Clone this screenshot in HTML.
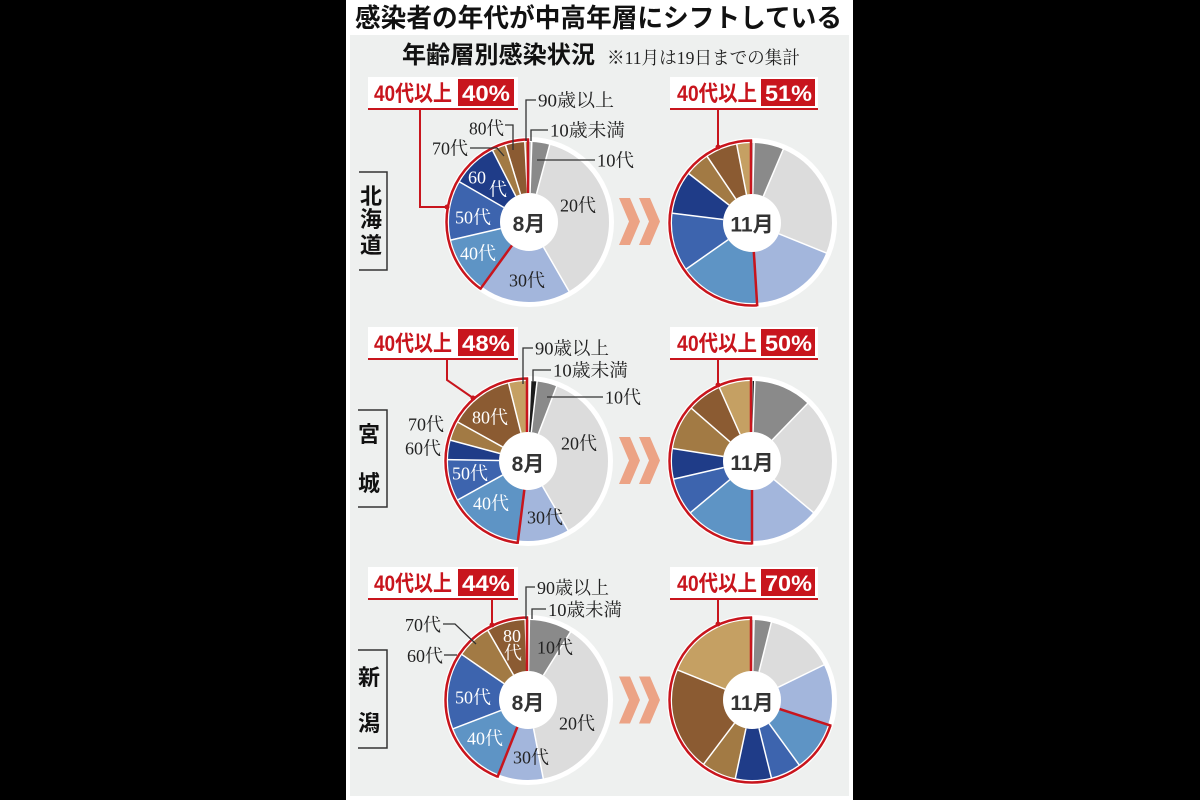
<!DOCTYPE html>
<html><head><meta charset="utf-8"><style>
html,body{margin:0;padding:0;background:#000;}
svg{display:block}
.s{font-family:"Liberation Serif","Noto Serif CJK SC",serif;font-size:18px;fill:#222}
.w{fill:#fff}
.b{font-family:"Liberation Sans","Noto Sans CJK JP",sans-serif;font-weight:bold}
.ld{fill:none;stroke:#333;stroke-width:1.3}
.rd{fill:none;stroke:#c8151d;stroke-width:2}
</style></head><body>
<svg width="1200" height="800" viewBox="0 0 1200 800" xmlns="http://www.w3.org/2000/svg">
<rect width="1200" height="800" fill="#000"/>
<rect x="346" y="0" width="507" height="800" fill="#fff"/>
<rect x="350" y="35" width="499" height="761" fill="#eef0ef"/>

<text x="355" y="27" font-size="26" class="b" fill="#111" textLength="487" lengthAdjust="spacingAndGlyphs">感染者の年代が中高年層にシフトしている</text>
<text x="402" y="63" font-size="24" class="b" fill="#111" textLength="193" lengthAdjust="spacingAndGlyphs">年齢層別感染状況</text>
<text x="607" y="64" class="s" textLength="193" lengthAdjust="spacingAndGlyphs">※11月は19日までの集計</text>

<!-- region labels -->
<g class="b" font-size="22" fill="#111" text-anchor="middle">
<text x="371" y="204">北</text><text x="371" y="227">海</text><text x="371" y="253">道</text>
<text x="369" y="442">宮</text><text x="369" y="491">城</text>
<text x="369" y="685">新</text><text x="369" y="731">潟</text>
</g>
<g fill="none" stroke="#333" stroke-width="1.5">
<path d="M359 172 H387 V270 H359"/>
<path d="M358 410 H387 V507 H358"/>
<path d="M358 650 H387 V748 H358"/>
</g>

<!-- chevrons -->
<g fill="#eca385">
<polygon points="619,198 630,198 640,221.5 630,245 619,245 629,221.5"/>
<polygon points="639,198 650,198 660,221.5 650,245 639,245 649,221.5"/>
<polygon points="619,437 630,437 640,460.5 630,484 619,484 629,460.5"/>
<polygon points="639,437 650,437 660,460.5 650,484 639,484 649,460.5"/>
<polygon points="619,676.5 630,676.5 640,700 630,723.5 619,723.5 629,700"/>
<polygon points="639,676.5 650,676.5 660,700 650,723.5 639,723.5 649,700"/>
</g>

<!-- ===== PIE A: Hokkaido Aug ===== -->
<g transform="translate(529 222)">
<circle r="85" fill="#fff"/>
<g transform="rotate(-90) scale(0.7456)" fill="none" stroke-width="100">
<circle r="57.2958" stroke="#c8c8c8" stroke-dasharray="2 400" stroke-dashoffset="0"/>
<circle r="57.2958" stroke="#8a8a8a" stroke-dasharray="13 400" stroke-dashoffset="-2"/>
<circle r="57.2958" stroke="#dcdcdc" stroke-dasharray="135 400" stroke-dashoffset="-15"/>
<circle r="57.2958" stroke="#a3b6dc" stroke-dasharray="66 400" stroke-dashoffset="-150"/>
<circle r="57.2958" stroke="#5e94c5" stroke-dasharray="41 400" stroke-dashoffset="-216"/>
<circle r="57.2958" stroke="#3d64ae" stroke-dasharray="43 400" stroke-dashoffset="-257"/>
<circle r="57.2958" stroke="#1f3c88" stroke-dasharray="33 400" stroke-dashoffset="-300"/>
<circle r="57.2958" stroke="#a27a44" stroke-dasharray="10 400" stroke-dashoffset="-333"/>
<circle r="57.2958" stroke="#8b5b32" stroke-dasharray="14 400" stroke-dashoffset="-343"/>
<circle r="57.2958" stroke="#c5a063" stroke-dasharray="3 400" stroke-dashoffset="-357"/>
</g>
<g stroke="#fff" stroke-width="1.5">
<line x1="0" y1="-29" x2="0" y2="-81" transform="rotate(2)"/>
<line x1="0" y1="-29" x2="0" y2="-81" transform="rotate(15)"/>
<line x1="0" y1="-29" x2="0" y2="-81" transform="rotate(150)"/>
<line x1="0" y1="-29" x2="0" y2="-81" transform="rotate(257)"/>
<line x1="0" y1="-29" x2="0" y2="-81" transform="rotate(300)"/>
<line x1="0" y1="-29" x2="0" y2="-81" transform="rotate(333)"/>
<line x1="0" y1="-29" x2="0" y2="-81" transform="rotate(343)"/>
<line x1="0" y1="-29" x2="0" y2="-81" transform="rotate(357)"/>
</g>
<g transform="rotate(-90) scale(1.4399)"><circle r="57.2958" fill="none" stroke="#c8151d" stroke-width="1.736" stroke-dasharray="144 400" stroke-dashoffset="-216"/></g>
<g stroke="#c8151d" stroke-width="2.5">
<line x1="0" y1="-28" x2="0" y2="-83.5" transform="rotate(216)"/>
<line x1="-1" y1="-28" x2="-1" y2="-83.5"/>
</g>
<circle r="29" fill="#fff"/>
<text x="0" y="9" text-anchor="middle" class="b" font-size="21" fill="#333">8月</text>
</g>

<!-- ===== PIE B: Hokkaido Nov ===== -->
<g transform="translate(752 223)">
<circle r="85" fill="#fff"/>
<g transform="rotate(-90) scale(0.7456)" fill="none" stroke-width="100">
<circle r="57.2958" stroke="#c8c8c8" stroke-dasharray="1.5 400" stroke-dashoffset="0"/>
<circle r="57.2958" stroke="#8a8a8a" stroke-dasharray="21.5 400" stroke-dashoffset="-1.5"/>
<circle r="57.2958" stroke="#dcdcdc" stroke-dasharray="89 400" stroke-dashoffset="-23"/>
<circle r="57.2958" stroke="#a3b6dc" stroke-dasharray="64.4 400" stroke-dashoffset="-112"/>
<circle r="57.2958" stroke="#5e94c5" stroke-dasharray="58.6 400" stroke-dashoffset="-176.4"/>
<circle r="57.2958" stroke="#3d64ae" stroke-dasharray="42 400" stroke-dashoffset="-235"/>
<circle r="57.2958" stroke="#1f3c88" stroke-dasharray="31 400" stroke-dashoffset="-277"/>
<circle r="57.2958" stroke="#a27a44" stroke-dasharray="18 400" stroke-dashoffset="-308"/>
<circle r="57.2958" stroke="#8b5b32" stroke-dasharray="23 400" stroke-dashoffset="-326"/>
<circle r="57.2958" stroke="#c5a063" stroke-dasharray="11 400" stroke-dashoffset="-349"/>
</g>
<g stroke="#fff" stroke-width="1.5">
<line x1="0" y1="-29" x2="0" y2="-81" transform="rotate(1.5)"/>
<line x1="0" y1="-29" x2="0" y2="-81" transform="rotate(23)"/>
<line x1="0" y1="-29" x2="0" y2="-81" transform="rotate(112)"/>
<line x1="0" y1="-29" x2="0" y2="-81" transform="rotate(235)"/>
<line x1="0" y1="-29" x2="0" y2="-81" transform="rotate(277)"/>
<line x1="0" y1="-29" x2="0" y2="-81" transform="rotate(308)"/>
<line x1="0" y1="-29" x2="0" y2="-81" transform="rotate(326)"/>
<line x1="0" y1="-29" x2="0" y2="-81" transform="rotate(349)"/>
</g>
<g transform="rotate(-90) scale(1.4399)"><circle r="57.2958" fill="none" stroke="#c8151d" stroke-width="1.736" stroke-dasharray="183.6 400" stroke-dashoffset="-176.4"/></g>
<g stroke="#c8151d" stroke-width="2.5">
<line x1="0" y1="-28" x2="0" y2="-83.5" transform="rotate(176.4)"/>
<line x1="-1" y1="-28" x2="-1" y2="-83.5"/>
</g>
<circle r="29" fill="#fff"/>
<text x="0" y="8.5" text-anchor="middle" class="b" font-size="21" fill="#333">11月</text>
</g>

<!-- ===== PIE C: Miyagi Aug ===== -->
<g transform="translate(528 461)">
<circle r="85" fill="#fff"/>
<g transform="rotate(-90) scale(0.7456)" fill="none" stroke-width="100">
<circle r="57.2958" stroke="#1c1c1c" stroke-dasharray="4 400" stroke-dashoffset="-2.5"/>
<circle r="57.2958" stroke="#8a8a8a" stroke-dasharray="14.5 400" stroke-dashoffset="-6.5"/>
<circle r="57.2958" stroke="#dcdcdc" stroke-dasharray="129 400" stroke-dashoffset="-21"/>
<circle r="57.2958" stroke="#a3b6dc" stroke-dasharray="37.2 400" stroke-dashoffset="-150"/>
<circle r="57.2958" stroke="#5e94c5" stroke-dasharray="53.8 400" stroke-dashoffset="-187.2"/>
<circle r="57.2958" stroke="#3d64ae" stroke-dasharray="30 400" stroke-dashoffset="-241"/>
<circle r="57.2958" stroke="#1f3c88" stroke-dasharray="14 400" stroke-dashoffset="-271"/>
<circle r="57.2958" stroke="#a27a44" stroke-dasharray="14 400" stroke-dashoffset="-285"/>
<circle r="57.2958" stroke="#8b5b32" stroke-dasharray="47 400" stroke-dashoffset="-299"/>
<circle r="57.2958" stroke="#c5a063" stroke-dasharray="14 400" stroke-dashoffset="-346"/>
</g>
<g stroke="#fff" stroke-width="1.5">
<line x1="0" y1="-29" x2="0" y2="-81" transform="rotate(6.5)"/>
<line x1="0" y1="-29" x2="0" y2="-81" transform="rotate(21)"/>
<line x1="0" y1="-29" x2="0" y2="-81" transform="rotate(150)"/>
<line x1="0" y1="-29" x2="0" y2="-81" transform="rotate(241)"/>
<line x1="0" y1="-29" x2="0" y2="-81" transform="rotate(271)"/>
<line x1="0" y1="-29" x2="0" y2="-81" transform="rotate(285)"/>
<line x1="0" y1="-29" x2="0" y2="-81" transform="rotate(299)"/>
<line x1="0" y1="-29" x2="0" y2="-81" transform="rotate(346)"/>
</g>
<g transform="rotate(-90) scale(1.4399)"><circle r="57.2958" fill="none" stroke="#c8151d" stroke-width="1.736" stroke-dasharray="172.8 400" stroke-dashoffset="-187.2"/></g>
<g stroke="#c8151d" stroke-width="2.5">
<line x1="0" y1="-28" x2="0" y2="-83.5" transform="rotate(187.2)"/>
<line x1="-1" y1="-28" x2="-1" y2="-83.5"/>
</g>
<circle r="29" fill="#fff"/>
<text x="0" y="10" text-anchor="middle" class="b" font-size="21" fill="#333">8月</text>
</g>

<!-- ===== PIE D: Miyagi Nov ===== -->
<g transform="translate(752 461)">
<circle r="85" fill="#fff"/>
<g transform="rotate(-90) scale(0.7456)" fill="none" stroke-width="100">
<circle r="57.2958" stroke="#1c1c1c" stroke-dasharray="1.5 400" stroke-dashoffset="-0.5"/>
<circle r="57.2958" stroke="#8a8a8a" stroke-dasharray="42 400" stroke-dashoffset="-2"/>
<circle r="57.2958" stroke="#dcdcdc" stroke-dasharray="86 400" stroke-dashoffset="-44"/>
<circle r="57.2958" stroke="#a3b6dc" stroke-dasharray="50 400" stroke-dashoffset="-130"/>
<circle r="57.2958" stroke="#5e94c5" stroke-dasharray="50 400" stroke-dashoffset="-180"/>
<circle r="57.2958" stroke="#3d64ae" stroke-dasharray="27 400" stroke-dashoffset="-230"/>
<circle r="57.2958" stroke="#1f3c88" stroke-dasharray="22 400" stroke-dashoffset="-257"/>
<circle r="57.2958" stroke="#a27a44" stroke-dasharray="32 400" stroke-dashoffset="-279"/>
<circle r="57.2958" stroke="#8b5b32" stroke-dasharray="25 400" stroke-dashoffset="-311"/>
<circle r="57.2958" stroke="#c5a063" stroke-dasharray="24 400" stroke-dashoffset="-336"/>
</g>
<g stroke="#fff" stroke-width="1.5">
<line x1="0" y1="-29" x2="0" y2="-81" transform="rotate(2)"/>
<line x1="0" y1="-29" x2="0" y2="-81" transform="rotate(44)"/>
<line x1="0" y1="-29" x2="0" y2="-81" transform="rotate(130)"/>
<line x1="0" y1="-29" x2="0" y2="-81" transform="rotate(230)"/>
<line x1="0" y1="-29" x2="0" y2="-81" transform="rotate(257)"/>
<line x1="0" y1="-29" x2="0" y2="-81" transform="rotate(279)"/>
<line x1="0" y1="-29" x2="0" y2="-81" transform="rotate(311)"/>
<line x1="0" y1="-29" x2="0" y2="-81" transform="rotate(336)"/>
</g>
<g transform="rotate(-90) scale(1.4399)"><circle r="57.2958" fill="none" stroke="#c8151d" stroke-width="1.736" stroke-dasharray="180 400" stroke-dashoffset="-180"/></g>
<g stroke="#c8151d" stroke-width="2.5">
<line x1="0" y1="-28" x2="0" y2="-83.5" transform="rotate(180)"/>
<line x1="-1" y1="-28" x2="-1" y2="-83.5"/>
</g>
<circle r="29" fill="#fff"/>
<text x="0" y="9" text-anchor="middle" class="b" font-size="21" fill="#333">11月</text>
</g>

<!-- ===== PIE E: Niigata Aug ===== -->
<g transform="translate(528 700)">
<circle r="85" fill="#fff"/>
<g transform="rotate(-90) scale(0.7456)" fill="none" stroke-width="100">
<circle r="57.2958" stroke="#c8c8c8" stroke-dasharray="1 400" stroke-dashoffset="0"/>
<circle r="57.2958" stroke="#8a8a8a" stroke-dasharray="31 400" stroke-dashoffset="-1"/>
<circle r="57.2958" stroke="#dcdcdc" stroke-dasharray="137 400" stroke-dashoffset="-32"/>
<circle r="57.2958" stroke="#a3b6dc" stroke-dasharray="32.6 400" stroke-dashoffset="-169"/>
<circle r="57.2958" stroke="#5e94c5" stroke-dasharray="47.4 400" stroke-dashoffset="-201.6"/>
<circle r="57.2958" stroke="#3d64ae" stroke-dasharray="54 400" stroke-dashoffset="-249"/>
<circle r="57.2958" stroke="#1f3c88" stroke-dasharray="1.5 400" stroke-dashoffset="-303"/>
<circle r="57.2958" stroke="#a27a44" stroke-dasharray="25.5 400" stroke-dashoffset="-304.5"/>
<circle r="57.2958" stroke="#8b5b32" stroke-dasharray="28 400" stroke-dashoffset="-330"/>
<circle r="57.2958" stroke="#c5a063" stroke-dasharray="2 400" stroke-dashoffset="-358"/>
</g>
<g stroke="#fff" stroke-width="1.5">
<line x1="0" y1="-29" x2="0" y2="-81" transform="rotate(1)"/>
<line x1="0" y1="-29" x2="0" y2="-81" transform="rotate(32)"/>
<line x1="0" y1="-29" x2="0" y2="-81" transform="rotate(169)"/>
<line x1="0" y1="-29" x2="0" y2="-81" transform="rotate(249)"/>
<line x1="0" y1="-29" x2="0" y2="-81" transform="rotate(304.5)"/>
<line x1="0" y1="-29" x2="0" y2="-81" transform="rotate(330)"/>
<line x1="0" y1="-29" x2="0" y2="-81" transform="rotate(358)"/>
</g>
<g transform="rotate(-90) scale(1.4399)"><circle r="57.2958" fill="none" stroke="#c8151d" stroke-width="1.736" stroke-dasharray="158.4 400" stroke-dashoffset="-201.6"/></g>
<g stroke="#c8151d" stroke-width="2.5">
<line x1="0" y1="-28" x2="0" y2="-83.5" transform="rotate(201.6)"/>
<line x1="-1" y1="-28" x2="-1" y2="-83.5"/>
</g>
<circle r="29" fill="#fff"/>
<text x="0" y="10" text-anchor="middle" class="b" font-size="21" fill="#333">8月</text>
</g>

<!-- ===== PIE F: Niigata Nov ===== -->
<g transform="translate(752 700)">
<circle r="85" fill="#fff"/>
<g transform="rotate(-90) scale(0.7456)" fill="none" stroke-width="100">
<circle r="57.2958" stroke="#c8c8c8" stroke-dasharray="1.5 400" stroke-dashoffset="0"/>
<circle r="57.2958" stroke="#8a8a8a" stroke-dasharray="12.5 400" stroke-dashoffset="-1.5"/>
<circle r="57.2958" stroke="#dcdcdc" stroke-dasharray="50 400" stroke-dashoffset="-14"/>
<circle r="57.2958" stroke="#a3b6dc" stroke-dasharray="44 400" stroke-dashoffset="-64"/>
<circle r="57.2958" stroke="#5e94c5" stroke-dasharray="36 400" stroke-dashoffset="-108"/>
<circle r="57.2958" stroke="#3d64ae" stroke-dasharray="22 400" stroke-dashoffset="-144"/>
<circle r="57.2958" stroke="#1f3c88" stroke-dasharray="26 400" stroke-dashoffset="-166"/>
<circle r="57.2958" stroke="#a27a44" stroke-dasharray="25 400" stroke-dashoffset="-192"/>
<circle r="57.2958" stroke="#8b5b32" stroke-dasharray="75 400" stroke-dashoffset="-217"/>
<circle r="57.2958" stroke="#c5a063" stroke-dasharray="68 400" stroke-dashoffset="-292"/>
</g>
<g stroke="#fff" stroke-width="1.5">
<line x1="0" y1="-29" x2="0" y2="-81" transform="rotate(1.5)"/>
<line x1="0" y1="-29" x2="0" y2="-81" transform="rotate(14)"/>
<line x1="0" y1="-29" x2="0" y2="-81" transform="rotate(64)"/>
<line x1="0" y1="-29" x2="0" y2="-81" transform="rotate(144)"/>
<line x1="0" y1="-29" x2="0" y2="-81" transform="rotate(166)"/>
<line x1="0" y1="-29" x2="0" y2="-81" transform="rotate(192)"/>
<line x1="0" y1="-29" x2="0" y2="-81" transform="rotate(217)"/>
<line x1="0" y1="-29" x2="0" y2="-81" transform="rotate(292)"/>
</g>
<g transform="rotate(-90) scale(1.4399)"><circle r="57.2958" fill="none" stroke="#c8151d" stroke-width="1.736" stroke-dasharray="252 400" stroke-dashoffset="-108"/></g>
<g stroke="#c8151d" stroke-width="2.5">
<line x1="0" y1="-28" x2="0" y2="-83.5" transform="rotate(108)"/>
<line x1="-1" y1="-28" x2="-1" y2="-83.5"/>
</g>
<circle r="29" fill="#fff"/>
<text x="0" y="10" text-anchor="middle" class="b" font-size="21" fill="#333">11月</text>
</g>

<!-- ===== Label boxes ===== -->
<g>
<rect x="368" y="77" width="150" height="32" fill="#fff"/>
<text x="374" y="101" class="b" font-size="22" fill="#c8151d" textLength="78" lengthAdjust="spacingAndGlyphs">40代以上</text>
<rect x="458" y="79" width="56" height="27" fill="#c8151d"/>
<text x="462" y="101" class="b" font-size="22" fill="#fff" textLength="48" lengthAdjust="spacingAndGlyphs">40%</text>
<line x1="368" y1="109" x2="518" y2="109" stroke="#c8151d" stroke-width="2"/>

<rect x="670" y="77" width="148" height="32" fill="#fff"/>
<text x="677" y="101" class="b" font-size="22" fill="#c8151d" textLength="80" lengthAdjust="spacingAndGlyphs">40代以上</text>
<rect x="761" y="79" width="54" height="27" fill="#c8151d"/>
<text x="765" y="101" class="b" font-size="22" fill="#fff" textLength="47" lengthAdjust="spacingAndGlyphs">51%</text>
<line x1="670" y1="109" x2="818" y2="109" stroke="#c8151d" stroke-width="2"/>

<rect x="368" y="327" width="150" height="32" fill="#fff"/>
<text x="374" y="351" class="b" font-size="22" fill="#c8151d" textLength="78" lengthAdjust="spacingAndGlyphs">40代以上</text>
<rect x="458" y="329" width="56" height="27" fill="#c8151d"/>
<text x="462" y="351" class="b" font-size="22" fill="#fff" textLength="48" lengthAdjust="spacingAndGlyphs">48%</text>
<line x1="368" y1="359" x2="518" y2="359" stroke="#c8151d" stroke-width="2"/>

<rect x="670" y="327" width="148" height="32" fill="#fff"/>
<text x="677" y="351" class="b" font-size="22" fill="#c8151d" textLength="80" lengthAdjust="spacingAndGlyphs">40代以上</text>
<rect x="761" y="329" width="54" height="27" fill="#c8151d"/>
<text x="765" y="351" class="b" font-size="22" fill="#fff" textLength="47" lengthAdjust="spacingAndGlyphs">50%</text>
<line x1="670" y1="359" x2="818" y2="359" stroke="#c8151d" stroke-width="2"/>

<rect x="368" y="567" width="150" height="32" fill="#fff"/>
<text x="374" y="591" class="b" font-size="22" fill="#c8151d" textLength="78" lengthAdjust="spacingAndGlyphs">40代以上</text>
<rect x="458" y="569" width="56" height="27" fill="#c8151d"/>
<text x="462" y="591" class="b" font-size="22" fill="#fff" textLength="48" lengthAdjust="spacingAndGlyphs">44%</text>
<line x1="368" y1="599" x2="518" y2="599" stroke="#c8151d" stroke-width="2"/>

<rect x="670" y="567" width="148" height="32" fill="#fff"/>
<text x="677" y="591" class="b" font-size="22" fill="#c8151d" textLength="80" lengthAdjust="spacingAndGlyphs">40代以上</text>
<rect x="761" y="569" width="54" height="27" fill="#c8151d"/>
<text x="765" y="591" class="b" font-size="22" fill="#fff" textLength="47" lengthAdjust="spacingAndGlyphs">70%</text>
<line x1="670" y1="599" x2="818" y2="599" stroke="#c8151d" stroke-width="2"/>
</g>

<!-- red leaders -->
<g class="rd">
<path d="M420 109 V207 H447"/>
<path d="M718 109 V147"/>
<path d="M447 359 V380 L473 398"/>
<path d="M718 359 V385"/>
<path d="M492 599 V625"/>
<path d="M718 599 V624"/>
</g>
<g fill="#c8151d">
<circle cx="447" cy="207" r="2.5"/><circle cx="718" cy="147" r="2.5"/>
<circle cx="473" cy="398" r="2.5"/><circle cx="718" cy="385" r="2.5"/>
<circle cx="492" cy="625" r="2.5"/><circle cx="718" cy="624" r="2.5"/>
</g>

<!-- black leaders -->
<g class="ld">
<path d="M536 100 H526 V141"/>
<path d="M548 130 H531 V141"/>
<path d="M537 160 H595"/>
<path d="M505 125 H513 V150"/>
<path d="M470 148 H497 L504 156"/>
<path d="M533 348 H523 V384"/>
<path d="M551 370 H533 V381"/>
<path d="M547 397 H603"/>
<path d="M535 587 H526 V619"/>
<path d="M546 609 H532 V619"/>
<path d="M443 624 H455 L476 644"/>
<path d="M444 655 H457"/>
</g>

<!-- annotation texts -->
<g class="s">
<text x="538" y="106.5" textLength="76" lengthAdjust="spacingAndGlyphs">90歳以上</text>
<text x="550" y="136.5" textLength="75" lengthAdjust="spacingAndGlyphs">10歳未満</text>
<text x="597" y="166.5" textLength="37" lengthAdjust="spacingAndGlyphs">10代</text>
<text x="469" y="134.5" textLength="35" lengthAdjust="spacingAndGlyphs">80代</text>
<text x="432" y="154.5" textLength="36" lengthAdjust="spacingAndGlyphs">70代</text>

<text x="535" y="354.5" textLength="74" lengthAdjust="spacingAndGlyphs">90歳以上</text>
<text x="553" y="376.5" textLength="75" lengthAdjust="spacingAndGlyphs">10歳未満</text>
<text x="605" y="403.5" textLength="36" lengthAdjust="spacingAndGlyphs">10代</text>
<text x="408" y="430.5" textLength="36" lengthAdjust="spacingAndGlyphs">70代</text>
<text x="405" y="454.5" textLength="36" lengthAdjust="spacingAndGlyphs">60代</text>

<text x="537" y="594" textLength="72" lengthAdjust="spacingAndGlyphs">90歳以上</text>
<text x="548" y="616" textLength="74" lengthAdjust="spacingAndGlyphs">10歳未満</text>
<text x="405" y="631" textLength="36" lengthAdjust="spacingAndGlyphs">70代</text>
<text x="407" y="662" textLength="36" lengthAdjust="spacingAndGlyphs">60代</text>
</g>

<!-- in-slice labels -->
<g class="s" text-anchor="middle">
<text x="578" y="211.5">20代</text>
<text x="527" y="286.5">30代</text>
<text x="478" y="259.5" class="w">40代</text>
<text x="473" y="223.5" class="w">50代</text>
<text x="477" y="183.5" class="w">60</text>
<text x="498" y="195.5" class="w">代</text>

<text x="579" y="449.5">20代</text>
<text x="545" y="523.5">30代</text>
<text x="491" y="509.5" class="w">40代</text>
<text x="470" y="479.5" class="w">50代</text>
<text x="490" y="423.5" class="w">80代</text>

<text x="577" y="729.5">20代</text>
<text x="531" y="763.5">30代</text>
<text x="555" y="653.5">10代</text>
<text x="485" y="744.5" class="w">40代</text>
<text x="473" y="703.5" class="w">50代</text>
<text x="512" y="642" class="w">80</text>
<text x="513" y="659" class="w">代</text>
</g>
</svg>
</body></html>
